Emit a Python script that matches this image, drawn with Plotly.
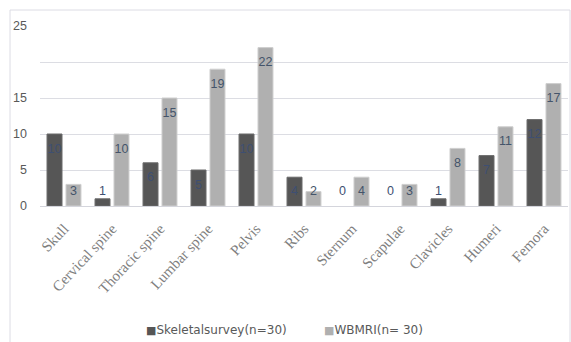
import plotly.graph_objects as go

categories = ["Skull", "Cervical spine", "Thoracic spine", "Lumbar spine", "Pelvis",
              "Ribs", "Sternum", "Scapulae", "Clavicles", "Humeri", "Femora"]
skeletal = [10, 1, 6, 5, 10, 4, 0, 0, 1, 7, 12]
wbmri = [3, 10, 15, 19, 22, 2, 4, 3, 8, 11, 17]
series_names = ["Skeletalsurvey(n=30)", "WBMRI(n= 30)"]
y_tickvals = [0, 5, 10, 15, 20, 25]
y_ticktext = ["0", "5", "10", "15", "", "25"]

W, H = 571, 342
ML, MR, MT, MB = 40, 3, 26, 136
pw, ph = W - ML - MR, H - MT - MB

def label_y(v):
    return max(v - 2.15, 1.9)

fig = go.Figure()
colors = ["#565656", "#b0b0b0"]
edges = ["#6a6a6a", "#cfcfcf"]
for i, (name, vals) in enumerate(zip(series_names, [skeletal, wbmri])):
    fig.add_trace(go.Bar(
        x=categories, y=vals, name=name, offsetgroup=str(i), showlegend=False,
        marker=dict(color=colors[i],
                    line=dict(color=edges[i], width=[0 if v == 0 else 1 for v in vals])),
    ))
label_colors = ["#3e4f72", "#44546a"]
for i, vals in enumerate([skeletal, wbmri]):
    fig.add_trace(go.Scatter(
        x=categories, y=[label_y(v) for v in vals], mode="text",
        text=[str(v) for v in vals], offsetgroup=str(i), showlegend=False,
        textfont=dict(family="Liberation Sans", size=12.5, color=label_colors[i]),
        hoverinfo="skip", cliponaxis=False,
    ))

fig.update_layout(
    width=W, height=H,
    margin=dict(l=ML, r=MR, t=MT, b=MB, autoexpand=False),
    barmode="group", scattermode="group",
    bargap=0.21, bargroupgap=0.21, scattergap=0.21,
    plot_bgcolor="white", paper_bgcolor="white",
    showlegend=False,
    xaxis=dict(tickangle=-47, showgrid=False, showline=False, ticks="",
               ticklabelstandoff=10,
               automargin=False, tickmode="array", tickvals=categories,
               tickfont=dict(family="Liberation Serif", size=15, color="#7f7f7f")),
    yaxis=dict(range=[0, 25], tickvals=y_tickvals, ticktext=y_ticktext,
               automargin=False, ticklabelstandoff=12,
               showgrid=True, gridcolor="#dcdde3", gridwidth=1,
               zeroline=True, zerolinecolor="#d4d5dc", zerolinewidth=1,
               showline=False, ticks="",
               tickfont=dict(family="Liberation Sans", size=12.5, color="#595959")),
)

# legend drawn as text entries (square marker + series name)
legend_px = [144, 322]
legend_y_px = 330
for name, col, px in zip(series_names, colors, legend_px):
    fig.add_annotation(
        xref="paper", yref="paper",
        x=(px - ML) / pw, y=(H - MB - legend_y_px) / ph,
        xanchor="left", yanchor="middle", showarrow=False,
        text=f"<span style='color:{col};font-size:11px'>■</span>{name}",
        font=dict(family="DejaVu Sans", size=12, color="#595959"),
    )

# outer chart border
x0 = (10 - ML) / pw
x1 = (570 - ML) / pw
y1 = (H - MB - 10) / ph
y0 = (H - MB - 350) / ph
fig.add_shape(type="rect", xref="paper", yref="paper", x0=x0, x1=x1, y0=y0, y1=y1,
              line=dict(color="#dcdce4", width=1), fillcolor="rgba(0,0,0,0)", layer="below")

fig.write_html("out.html")
